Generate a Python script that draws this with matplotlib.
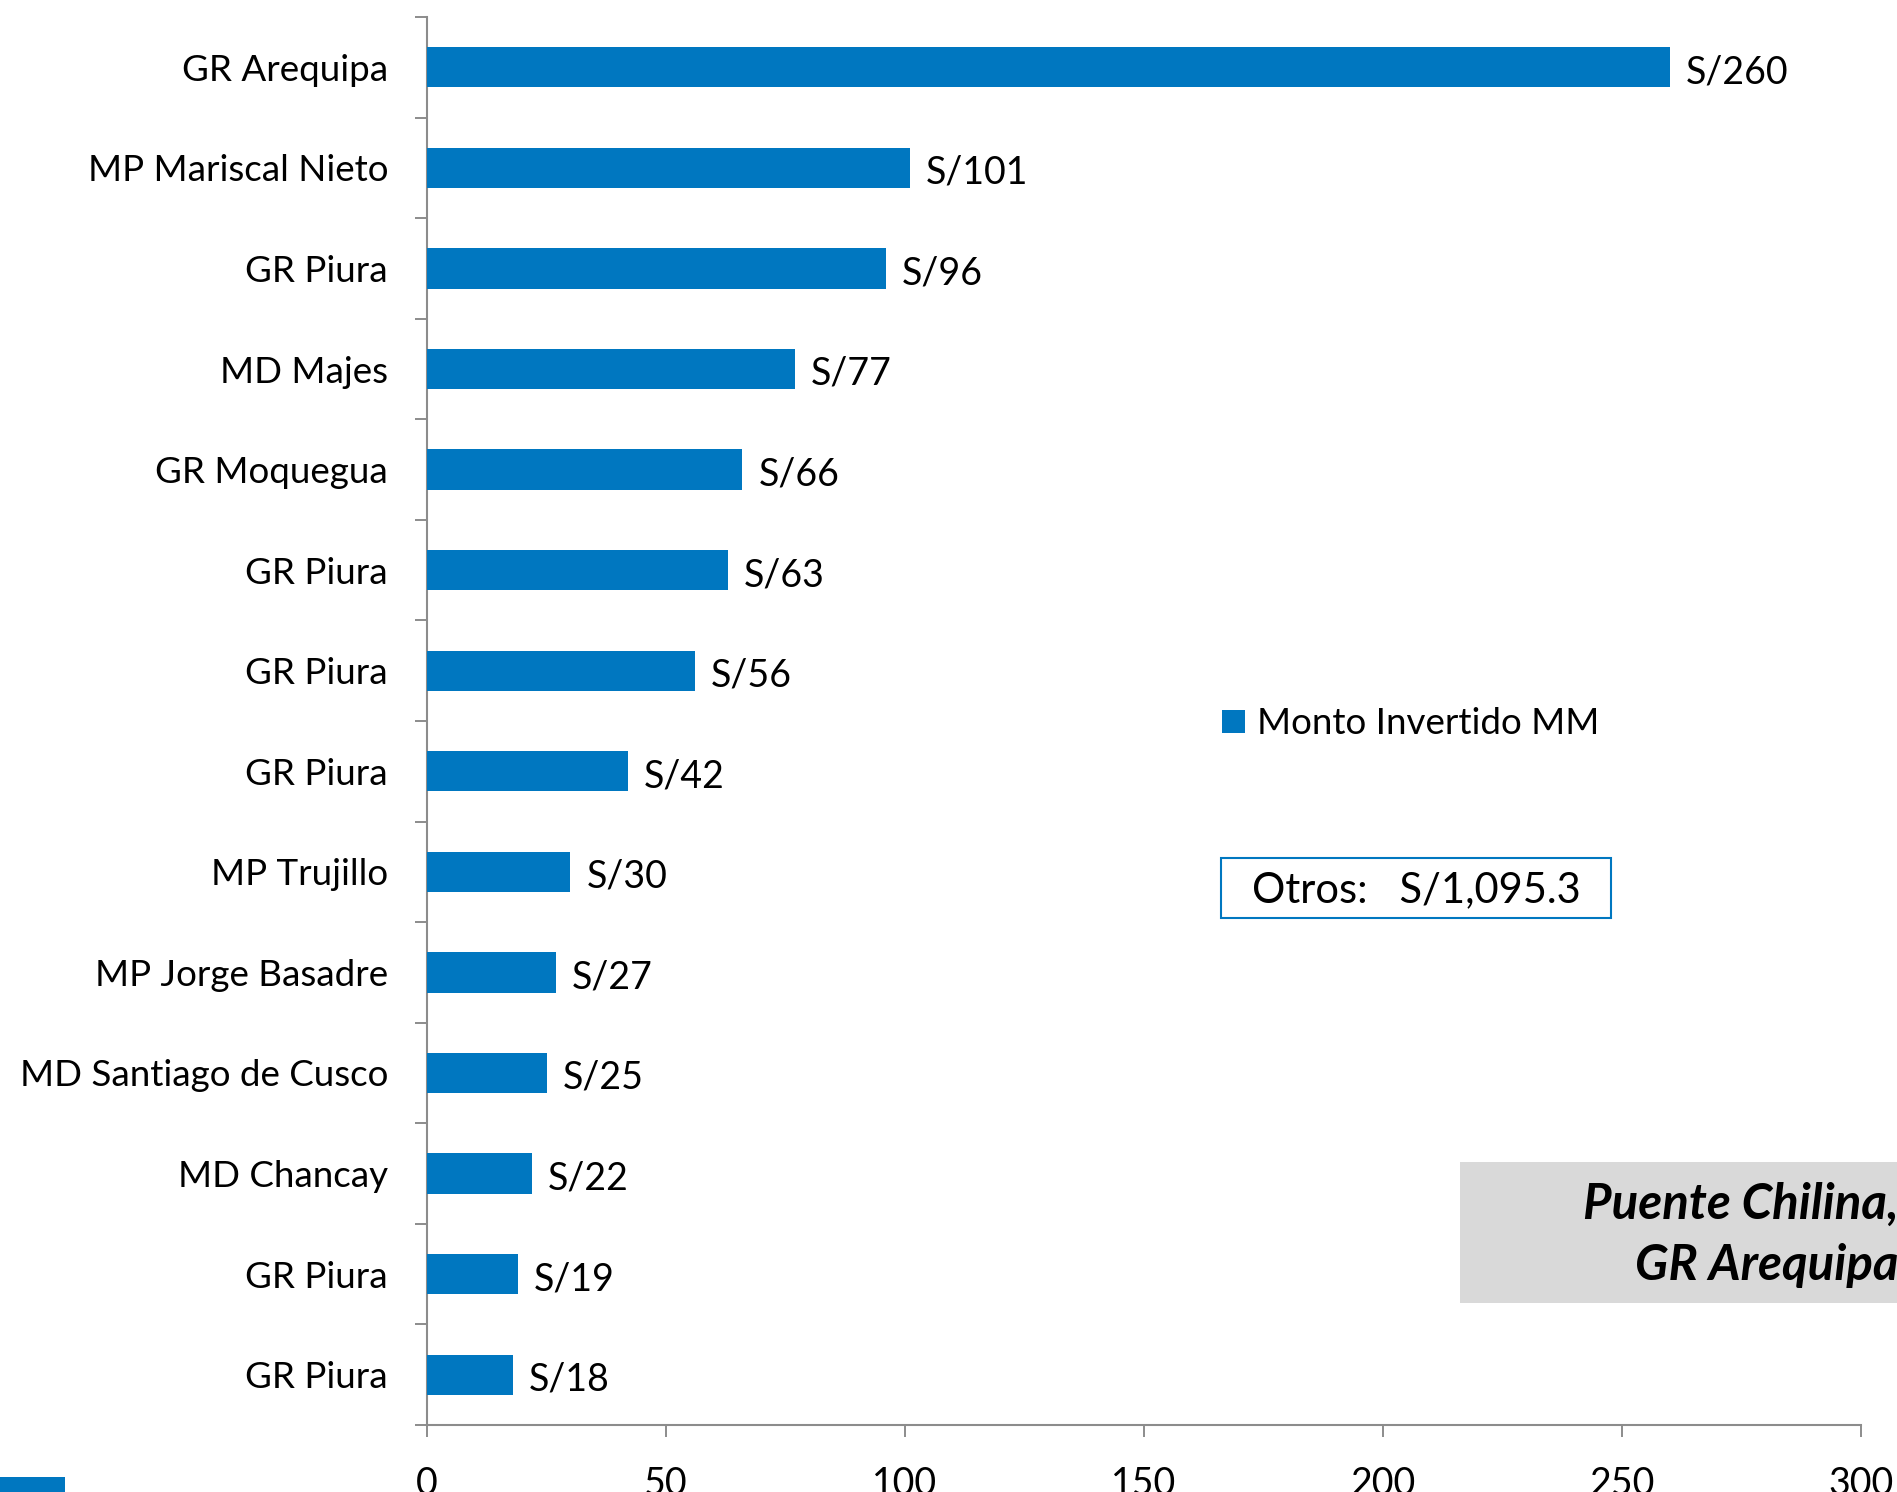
import matplotlib
matplotlib.use("Agg")
import matplotlib.pyplot as plt
from matplotlib.patches import Rectangle
import numpy as np

# Datos
categorias = ["GR Arequipa", "MP Mariscal Nieto", "GR Piura", "MD Majes",
              "GR Moquegua", "GR Piura", "GR Piura", "GR Piura", "MP Trujillo",
              "MP Jorge Basadre", "MD Santiago de Cusco", "MD Chancay",
              "GR Piura", "GR Piura"]
montos = [260, 101, 96, 77, 66, 63, 56, 42, 30, 27, 25, 22, 19, 18]
etiquetas = [f"S/{m}" for m in montos]
xticks = [0, 50, 100, 150, 200, 250, 300]
serie = "Monto Invertido MM"
otros = "Otros:   S/1,095.3"
nota = ["Puente Chilina,", "GR Arequipa"]

azul = "#0077C0"
gris_eje = "#8C8C8C"
W, H = 1897, 1492

plt.rcParams['font.family'] = ['Lato', 'DejaVu Sans']

fig = plt.figure(figsize=(W / 100, H / 100), dpi=100)
ax = fig.add_axes([427 / W, 1 - 1425 / H, (1861 - 427) / W, (1425 - 17) / H])

pos = np.arange(len(categorias))
ax.barh(pos, montos, height=0.4, color=azul, label=serie, zorder=3)

for p, m, t in zip(pos, montos, etiquetas):
    ax.annotate(t, (m, p), xytext=(11.5, -3.5), textcoords='offset points',
                ha='left', va='center', fontsize=27)

ax.set_xlim(0, 300)
ax.set_ylim(len(categorias) - 0.5, -0.5)
ax.set_xticks(xticks)
ax.set_xticklabels([str(x) for x in xticks], fontsize=27)

# ticks en los limites de categoria, etiquetas al centro
ax.set_yticks(np.arange(-0.5, len(categorias), 1.0))
ax.set_yticklabels([])
ax.set_yticks(pos, minor=True)
ax.set_yticklabels(categorias, minor=True, fontsize=26.5)
ax.tick_params(axis='y', which='minor', length=0, pad=28)
ax.tick_params(axis='y', which='major', length=8.6, width=1.4, color=gris_eje)
ax.tick_params(axis='x', length=8.6, width=1.4, color=gris_eje, pad=21)

for s in ['top', 'right']:
    ax.spines[s].set_visible(False)
for s in ['left', 'bottom']:
    ax.spines[s].set_color(gris_eje)
    ax.spines[s].set_linewidth(1.5)

leg = ax.legend(loc='center left', bbox_to_anchor=(1222 / W, 1 - 724 / H),
                bbox_transform=fig.transFigure, frameon=False, fontsize=26.5,
                handlelength=0.62, handleheight=0.62, handletextpad=0.33,
                borderpad=0, borderaxespad=0)

# recuadro "Otros"
fig.patches.append(Rectangle((1221 / W, 1 - 918 / H), (1611 - 1221) / W, 60 / H,
                             transform=fig.transFigure, fc='white', ec=azul, lw=1.5))
fig.text(1416 / W, 1 - 890 / H, otros, ha='center', va='center', fontsize=30)

# recuadro gris
fig.patches.append(Rectangle((1460 / W, 1 - 1303 / H), (W - 1460 + 10) / W, 141 / H,
                             transform=fig.transFigure, fc='#D9D9D9', ec='none'))
fig.text(1583 / W, 1 - 1204 / H, nota[0], ha='left', va='center', fontsize=35.5,
         fontweight='bold', fontstyle='italic')
fig.text(1635 / W, 1 - 1266 / H, nota[1], ha='left', va='center', fontsize=35.5,
         fontweight='bold', fontstyle='italic')

# franja azul abajo a la izquierda
fig.patches.append(Rectangle((0, 0), 65 / W, 15 / H, transform=fig.transFigure,
                             fc=azul, ec='none'))

plt.savefig('out.png', dpi=100)
